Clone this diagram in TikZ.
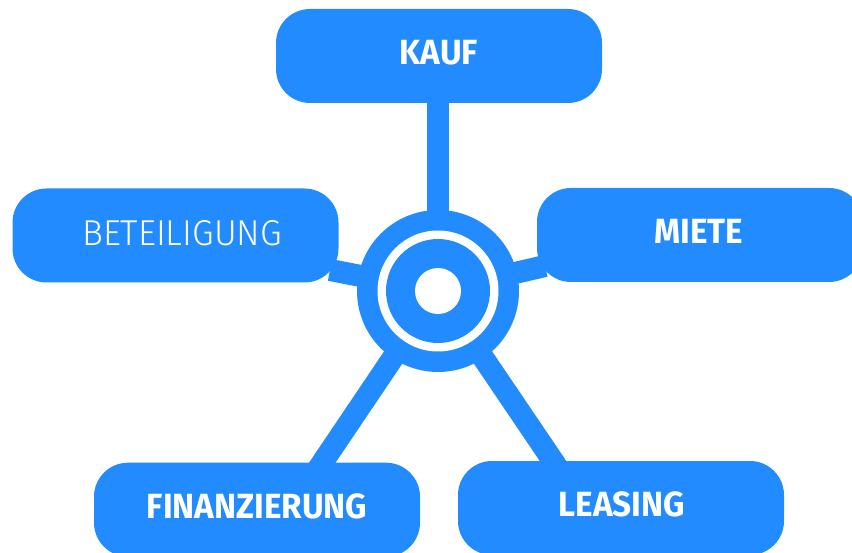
\documentclass[tikz,border=0pt]{standalone}
\usepackage{fontspec}
\setmainfont{Fira Sans}
\newfontfamily\lightfont{Fira Sans Light}
\definecolor{hubblue}{HTML}{228BFF}
\begin{document}
\begin{tikzpicture}[x=1pt,y=-1pt,
  box/.style={fill=hubblue, rounded corners=34pt, minimum width=326pt, minimum height=94pt, inner sep=0pt},
  lbl/.style={text=white, font=\fontsize{35}{40}\selectfont\bfseries, inner sep=0pt, anchor=center, xscale=0.95},
  lbllight/.style={text=white, font=\fontsize{36}{40}\lightfont, inner sep=0pt, anchor=center, xscale=0.97},
  spoke/.style={draw=hubblue, line width=22pt},
  disc/.style={circle, inner sep=0pt, minimum size=#1}
]
\useasboundingbox (0,0) rectangle (852,553);
% boxes
\node[box] (kauf) at (439,56) {};
\node[box] (bet) at (175.5,235.5) {};
\node[box] (miete) at (700,235) {};
\node[box] (fin) at (257,509.7) {};
\node[box] (leas) at (621,508) {};
% hub outer
\node[disc=162pt, fill=hubblue] (hub) at (438,291) {};
% spoke ends
\coordinate (ekauf) at (438,95);
\coordinate (ebet) at (330,270);
\coordinate (emiete) at (545,266);
\coordinate (efin) at (314,475);
\coordinate (eleas) at (562.5,475);
\draw[spoke] (hub.center) -- (ekauf);
\draw[spoke] (hub.center) -- (ebet);
\draw[spoke] (hub.center) -- (emiete);
\draw[spoke] (hub.center) -- (efin);
\draw[spoke] (hub.center) -- (eleas);
% hub rings
\node[disc=121pt, fill=white] (ring) at (hub.center) {};
\node[disc=104pt, fill=hubblue] (inner) at (hub.center) {};
\node[disc=46pt, fill=white] (eye) at (hub.center) {};
% labels
\node[lbl] (tkauf) at (439,53) {KAUF};
\node[lbllight] (tbet) at (182,233) {BETEILIGUNG};
\node[lbl] (tmiete) at (699,231) {MIETE};
\node[lbl] (tfin) at (257,506) {FINANZIERUNG};
\node[lbl] (tleas) at (621.7,504) {LEASING};
\end{tikzpicture}
\end{document}
